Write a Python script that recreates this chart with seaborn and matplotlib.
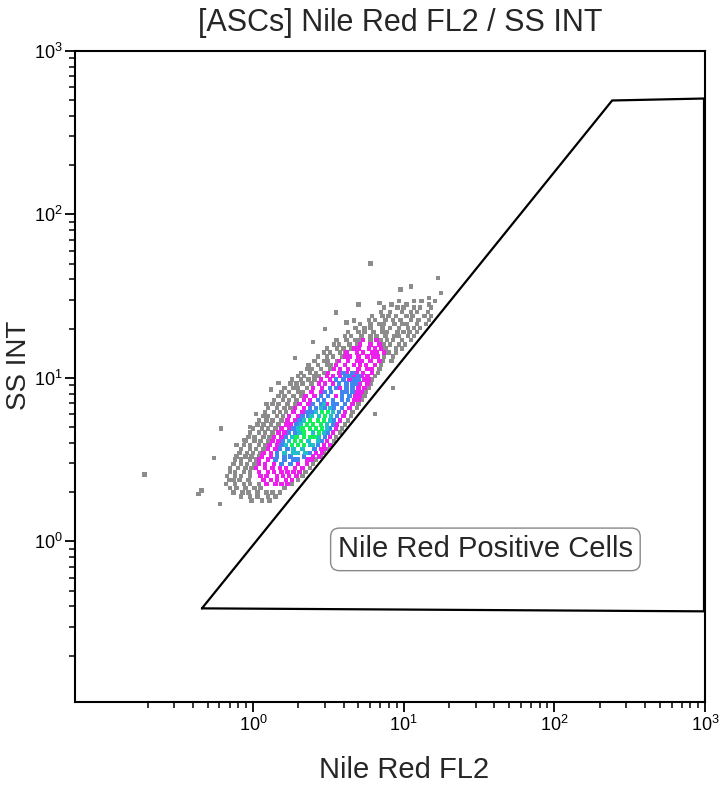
import matplotlib
matplotlib.use("Agg")
import matplotlib.pyplot as plt
import seaborn as sns
import pandas as pd
from matplotlib.ticker import FixedLocator, FixedFormatter, NullFormatter

# ---------------- data (log10 units) ----------------
# Each density tier: row positions on the SS INT axis and the FL2 positions of the dots in that row
gray_ss_rows = [1.47, 1.45, 1.43, 1.405, 1.38, 1.355, 1.33, 1.305, 1.28, 1.255, 1.23, 1.205,
                1.18, 1.155, 1.13, 1.105, 1.08, 1.055, 1.03, 1.01, 0.99, 0.965, 0.94, 0.915,
                0.89, 0.865, 0.84, 0.815, 0.79, 0.765, 0.74, 0.715, 0.69, 0.665, 0.64, 0.615,
                0.59, 0.565, 0.54, 0.52, 0.50, 0.475, 0.45, 0.425, 0.40, 0.375, 0.35, 0.325,
                0.30, 0.275, 0.25]
gray_fl2_rows = [
    [0.97, 1.07, 1.12, 1.21],
    [0.92, 1.02, 1.17],
    [0.87, 0.96, 1.00, 1.07, 1.11, 1.18],
    [0.85, 0.91, 0.99, 1.05, 1.09, 1.16],
    [0.79, 0.86, 0.90, 0.95, 1.02, 1.06, 1.14, 1.18],
    [0.77, 0.81, 0.88, 0.93, 0.98, 1.05, 1.10, 1.17],
    [0.71, 0.78, 0.84, 0.87, 0.94, 0.99, 1.02, 1.09, 1.15],
    [0.68, 0.74, 0.78, 0.86, 0.91, 0.97, 1.03, 1.07, 1.11],
    [0.63, 0.70, 0.74, 0.80, 0.86, 0.89, 0.96, 1.00, 1.04, 1.09],
    [0.61, 0.65, 0.72, 0.78, 0.82, 0.88, 0.94, 0.97, 1.03, 1.07],
    [0.55, 0.62, 0.68, 0.71, 0.78, 0.85, 0.89, 0.93, 0.99, 1.05],
    [0.54, 0.57, 0.64, 0.69, 0.87, 0.91, 0.97, 1.01],
    [0.49, 0.56, 0.60, 0.65, 0.88, 0.95, 0.99],
    [0.47, 0.51, 0.58, 0.61, 0.90, 0.95],
    [0.43, 0.49, 0.53, 0.59, 0.87, 0.93],
    [0.41, 0.47, 0.50, 0.56, 0.86, 0.92],
    [0.37, 0.43, 0.49, 0.52, 0.85],
    [0.36, 0.39, 0.45, 0.51, 0.84],
    [0.32, 0.38, 0.42, 0.47, 0.83],
    [0.30, 0.34, 0.41, 0.44, 0.81],
    [0.26, 0.32, 0.37, 0.41, 0.79],
    [0.25, 0.29, 0.33, 0.39, 0.78],
    [0.21, 0.27, 0.30, 0.36, 0.77],
    [0.19, 0.24, 0.30, 0.33, 0.75],
    [0.17, 0.21, 0.27, 0.32, 0.74],
    [0.14, 0.20, 0.24, 0.29, 0.72],
    [0.13, 0.17, 0.23, 0.28, 0.70],
    [0.10, 0.16, 0.21, 0.25, 0.69],
    [0.08, 0.14, 0.18, 0.22, 0.66],
    [0.07, 0.10, 0.16, 0.20, 0.65],
    [0.04, 0.09, 0.13, 0.19, 0.63],
    [0.03, 0.07, 0.12, 0.17, 0.61],
    [0.00, 0.06, 0.10, 0.15, 0.59],
    [-0.02, 0.04, 0.08, 0.13, 0.58],
    [-0.03, 0.01, 0.07, 0.11, 0.55],
    [-0.05, 0.01, 0.05, 0.10, 0.54],
    [-0.06, -0.02, 0.04, 0.08, 0.52],
    [-0.08, -0.02, 0.02, 0.07, 0.50],
    [-0.09, -0.04, 0.00, 0.05, 0.47],
    [-0.11, -0.05, -0.01, 0.04, 0.45],
    [-0.12, -0.08, -0.02, 0.02, 0.42],
    [-0.13, -0.08, -0.04, 0.01, 0.40],
    [-0.15, -0.10, -0.05, -0.01, 0.38],
    [-0.15, -0.12, -0.06, -0.02, 0.35],
    [-0.17, -0.12, -0.08, -0.02, 0.33],
    [-0.16, -0.13, -0.09, -0.03, 0.30],
    [-0.18, -0.12, -0.06, -0.02, 0.04, 0.26],
    [-0.15, -0.11, -0.05, 0.01, 0.05, 0.21],
    [-0.13, -0.07, -0.03, 0.03, 0.09, 0.13, 0.18],
    [-0.08, -0.02, 0.03, 0.10, 0.15],
    [-0.01, 0.06, 0.11],
]
outlier_fl2 = [-0.72, -0.34, -0.36, -0.22, -0.26, -0.21, 0.09, 0.17, 0.67, 0.84,
               0.98, 1.17, 1.23, 0.78, 0.93, 0.81, -0.11, -0.06, 0.62, 0.56,
               0.02, 0.12, 0.28, 0.40, 0.48, 0.55, -0.02, 1.05, 1.25, 0.70]
outlier_ss = [0.41, 0.31, 0.29, 0.23, 0.51, 0.69, 0.84, 0.97, 1.35, 1.46,
              1.54, 1.49, 1.61, 1.70, 0.94, 0.78, 0.59, 0.62, 1.34, 1.23,
              0.78, 0.93, 1.12, 1.22, 1.30, 1.40, 0.70, 1.56, 1.52, 1.45]

magenta_ss_rows = [1.23, 1.205, 1.18, 1.155, 1.13, 1.105, 1.08, 1.055, 1.03, 1.01, 0.99,
                   0.965, 0.94, 0.915, 0.89, 0.865, 0.84, 0.815, 0.79, 0.765, 0.74, 0.715,
                   0.69, 0.665, 0.64, 0.615, 0.59, 0.565, 0.54, 0.52, 0.50, 0.475, 0.45,
                   0.425, 0.40, 0.375, 0.35]
magenta_fl2_rows = [
    [0.73, 0.82],
    [0.71, 0.78, 0.84],
    [0.67, 0.70, 0.77, 0.81, 0.85],
    [0.62, 0.69, 0.73, 0.79, 0.82, 0.87],
    [0.61, 0.64, 0.70, 0.76, 0.80, 0.83],
    [0.57, 0.63, 0.69, 0.72, 0.78, 0.84],
    [0.55, 0.61, 0.67, 0.71, 0.75, 0.81],
    [0.54, 0.58, 0.63, 0.70, 0.76, 0.79],
    [0.50, 0.57, 0.62, 0.69, 0.73, 0.79],
    [0.49, 0.53, 0.58, 0.67, 0.72, 0.76],
    [0.45, 0.51, 0.64, 0.74, 0.77],
    [0.44, 0.48, 0.53, 0.71, 0.76],
    [0.40, 0.46, 0.58, 0.70, 0.74],
    [0.39, 0.45, 0.69, 0.72],
    [0.35, 0.41, 0.55, 0.68, 0.71],
    [0.34, 0.38, 0.67, 0.70],
    [0.31, 0.37, 0.49, 0.66],
    [0.28, 0.34, 0.64],
    [0.27, 0.33, 0.61],
    [0.24, 0.30, 0.60],
    [0.23, 0.28, 0.58],
    [0.22, 0.25, 0.56],
    [0.19, 0.24, 0.55],
    [0.17, 0.21, 0.53],
    [0.14, 0.19, 0.51],
    [0.13, 0.17, 0.49],
    [0.11, 0.16, 0.47, 0.51],
    [0.10, 0.15, 0.45, 0.48],
    [0.07, 0.12, 0.42, 0.46],
    [0.06, 0.12, 0.40, 0.44],
    [0.04, 0.10, 0.36, 0.39],
    [0.04, 0.08, 0.14, 0.30, 0.36],
    [0.02, 0.08, 0.13, 0.18, 0.22, 0.28, 0.33],
    [0.04, 0.10, 0.14, 0.19, 0.23, 0.27, 0.31],
    [0.05, 0.09, 0.16, 0.20, 0.24, 0.29],
    [0.07, 0.12, 0.16, 0.22, 0.26],
    [0.09, 0.15, 0.19, 0.23],
]

blue_ss_rows = [1.03, 1.01, 0.99, 0.965, 0.94, 0.915, 0.89, 0.865, 0.84, 0.815, 0.79,
                0.765, 0.74, 0.715, 0.69, 0.665, 0.64, 0.615, 0.59, 0.565, 0.54, 0.52,
                0.50, 0.475]
blue_fl2_rows = [
    [0.60, 0.66],
    [0.61, 0.64, 0.70],
    [0.55, 0.60, 0.67, 0.70],
    [0.57, 0.62, 0.66, 0.68],
    [0.51, 0.55, 0.62, 0.66],
    [0.48, 0.52, 0.59, 0.62, 0.66],
    [0.45, 0.50, 0.59, 0.64],
    [0.43, 0.47, 0.53, 0.59, 0.63],
    [0.40, 0.45, 0.53, 0.56, 0.61],
    [0.38, 0.42, 0.48, 0.54, 0.59],
    [0.36, 0.39, 0.57],
    [0.33, 0.37, 0.56],
    [0.31, 0.54],
    [0.29, 0.53],
    [0.27, 0.51],
    [0.24, 0.28, 0.50],
    [0.22, 0.48],
    [0.20, 0.46],
    [0.19, 0.43],
    [0.18, 0.23, 0.41],
    [0.16, 0.38],
    [0.16, 0.21, 0.25, 0.34],
    [0.15, 0.21, 0.27, 0.30],
    [0.19, 0.25],
]

cyan_ss_rows = [0.84, 0.815, 0.79, 0.765, 0.74, 0.715, 0.69, 0.665, 0.64, 0.615, 0.59,
                0.565, 0.54]
cyan_fl2_rows = [
    [0.47],
    [0.45, 0.51],
    [0.42, 0.53],
    [0.39, 0.44, 0.52],
    [0.34, 0.51],
    [0.32, 0.49],
    [0.30, 0.49],
    [0.31, 0.40, 0.47],
    [0.26, 0.44],
    [0.24, 0.37, 0.43],
    [0.22, 0.38, 0.40],
    [0.27, 0.33],
    [0.21, 0.27, 0.30, 0.35],
]

green_ss_rows = [0.79, 0.765, 0.74, 0.715, 0.69, 0.665, 0.64, 0.615, 0.59]
green_fl2_rows = [
    [0.46, 0.50],
    [0.48],
    [0.38, 0.43, 0.47],
    [0.36, 0.40, 0.45],
    [0.33, 0.38, 0.42, 0.46],
    [0.34, 0.44],
    [0.29, 0.34, 0.38, 0.41],
    [0.28, 0.32],
    [0.26, 0.30, 0.34],
]

# Gate polygon (data units)
gate_fl2 = [0.459, 242, 985, 985, 0.459]
gate_ss = [0.389, 498, 512, 0.373, 0.389]

major_ticks = [1, 10, 100, 1000]
major_labels = [r"$\mathregular{10^{0}}$", r"$\mathregular{10^{1}}$",
                r"$\mathregular{10^{2}}$", r"$\mathregular{10^{3}}$"]
minor_ticks = [m * 10.0 ** k for k in range(-1, 3) for m in range(2, 10)]

tier_colors = {"low": "#8c8c8c", "mid": "#ec1fec", "high": "#3f86f0",
               "higher": "#1fbfcc", "peak": "#14f05a"}
tier_order = ["low", "mid", "high", "higher", "peak"]

# ---------------- assemble ----------------
records = []


def add_rows(ss_rows, fl2_rows, tier):
    for yv, xs in zip(ss_rows, fl2_rows):
        for xv in xs:
            records.append((10 ** xv, 10 ** yv, tier))


for xv, yv in zip(outlier_fl2, outlier_ss):
    records.append((10 ** xv, 10 ** yv, "low"))
add_rows(gray_ss_rows, gray_fl2_rows, "low")
add_rows(magenta_ss_rows, magenta_fl2_rows, "mid")
add_rows(blue_ss_rows, blue_fl2_rows, "high")
add_rows(cyan_ss_rows, cyan_fl2_rows, "higher")
add_rows(green_ss_rows, green_fl2_rows, "peak")
df = pd.DataFrame(records, columns=["fl2", "ss", "tier"])

# ---------------- style ----------------
sns.set_theme(style="ticks")
plt.rcParams["font.family"] = ["Liberation Sans", "DejaVu Sans"]
plt.rcParams["mathtext.fontset"] = "custom"
plt.rcParams["mathtext.rm"] = "Liberation Sans"
plt.rcParams["mathtext.it"] = "Liberation Sans:italic"
plt.rcParams["mathtext.bf"] = "Liberation Sans:bold"

fig = plt.figure(figsize=(7.2, 7.86), dpi=100)
ax = fig.add_axes([75 / 720, 1 - 702 / 786, 630 / 720, 651 / 786])

sns.scatterplot(data=df, x="fl2", y="ss", hue="tier", palette=tier_colors,
                hue_order=tier_order, marker="s", s=10, linewidth=0,
                legend=False, ax=ax, zorder=2)

ax.plot(gate_fl2, gate_ss, color="black", lw=1.6, zorder=3, solid_joinstyle="miter")

ax.set_xscale("log")
ax.set_yscale("log")
ax.set_xlim(0.066, 1000)
ax.set_ylim(0.104, 1000)

for axis in (ax.xaxis, ax.yaxis):
    axis.set_major_locator(FixedLocator(major_ticks))
    axis.set_major_formatter(FixedFormatter(major_labels))
    axis.set_minor_locator(FixedLocator(minor_ticks))
    axis.set_minor_formatter(NullFormatter())

ax.tick_params(which="major", direction="out", length=7, width=1.3,
               labelsize=13, color="black", labelcolor="black", pad=2)
ax.tick_params(which="minor", direction="out", length=4.5, width=1.1, color="black")
for sp in ax.spines.values():
    sp.set_linewidth(1.5)
    sp.set_color("black")
    sp.set_visible(True)

ax.set_xlabel("")
ax.set_ylabel("")
fig.text(404 / 720, 1 - 770 / 786, "Nile Red FL2", ha="center", va="center", fontsize=21)
fig.text(19 / 720, 1 - 365 / 786, "SS INT", ha="center", va="center", fontsize=20,
         rotation=90)
fig.text(400 / 720, 1 - 23 / 786, "[ASCs] Nile Red FL2 / SS INT", ha="center",
         va="center", fontsize=22)

ax.text(34.9, 0.893, "Nile Red Positive Cells", ha="center", va="center",
        fontsize=21, zorder=4,
        bbox=dict(boxstyle="round,pad=0.25,rounding_size=0.3", facecolor="white",
                  edgecolor="#888888", linewidth=1.0))

fig.savefig("out.png", dpi=100, facecolor="white")
